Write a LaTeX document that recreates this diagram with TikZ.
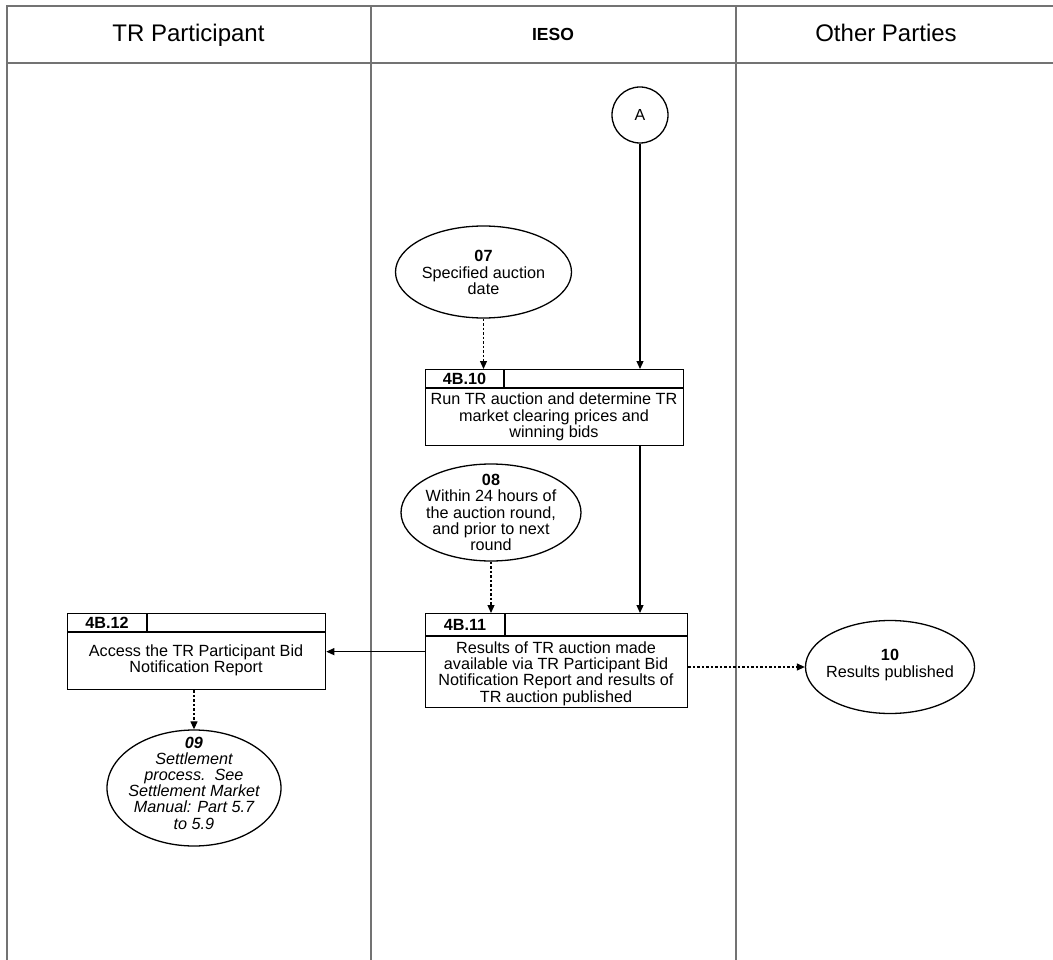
\documentclass[tikz,border=0pt]{standalone}
\usepackage{fontspec}
\setmainfont{Liberation Sans}
\usetikzlibrary{arrows.meta,shapes.geometric}
\begin{document}
\begin{tikzpicture}[x=1pt,y=-1pt,
  frame/.style={draw=black!55, line width=1.5pt},
  edge/.style={draw=black, line width=1.3pt},
  txt/.style={font=\fontsize{16.2}{16.4}\selectfont, align=center, inner sep=0pt},
  idtxt/.style={font=\fontsize{16.2}{16.4}\selectfont\bfseries, inner sep=0pt},
  flow/.style={draw=black, line width=1.2pt, -{Triangle[length=8pt,width=7pt]}},
  info/.style={flow, dash pattern=on 2.5pt off 2pt},
  oval/.style={ellipse, draw=black, line width=1.3pt, inner sep=0pt},
  procbox/.style={rectangle, draw=black, line width=1.3pt, inner sep=0pt, anchor=north west}
]
\useasboundingbox (0,0) rectangle (1053,960);
\fill[white] (0,0) rectangle (1053,960);
% swimlane frame
\begin{scope}
\clip (0,0) rectangle (1053,960);
\draw[frame] (1100,6) -- (7,6) -- (7,980);
\draw[frame] (7,63) -- (1100,63);
\draw[frame] (371,6) -- (371,980);
\draw[frame] (736,6) -- (736,980);
\end{scope}
% lane headers
\node[font=\fontsize{24}{24}\selectfont, inner sep=0pt, anchor=base] (h1) at (188.5,42) {TR Participant};
\node[font=\fontsize{17.5}{17.5}\selectfont\bfseries, inner sep=0pt, anchor=base] (h2) at (553,41) {IESO};
\node[font=\fontsize{24}{24}\selectfont, inner sep=0pt, anchor=base] (h3) at (886,42) {Other Parties};
% connector A
\node[circle, draw=black, line width=1.3pt, minimum size=56pt, inner sep=0pt, font=\fontsize{16}{16}\selectfont] (a) at (640,115) {A};
% ellipse 07
\node[oval, minimum width=176pt, minimum height=92pt] (e07) at (483.5,272) {};
\node[txt] (t07) at (483.5,272.5) {\textbf{07}\\Specified auction\\date};
% box 4B.10
\node[procbox, minimum width=258pt, minimum height=76pt] (b10) at (425,369) {};
\draw[edge] ([yshift=-19pt]b10.north west) -- ([yshift=-19pt]b10.north east);
\draw[edge] ([xshift=79pt]b10.north west) -- ++(0,19);
\node[idtxt] (b10id) at (464.5,378.5) {4B.10};
\node[txt] (b10t) at (554,417) {Run TR auction and determine TR\\market clearing prices and\\winning bids};
% ellipse 08
\node[oval, minimum width=180pt, minimum height=97pt] (e08) at (491,512.5) {};
\node[txt] (t08) at (491,512.5) {\textbf{08}\\Within 24 hours of\\the auction round,\\and prior to next\\round};
% box 4B.11
\node[procbox, minimum width=262pt, minimum height=94pt] (b11) at (425,613) {};
\draw[edge] ([yshift=-23pt]b11.north west) -- ([yshift=-23pt]b11.north east);
\draw[edge] ([xshift=80pt]b11.north west) -- ++(0,23);
\node[idtxt] (b11id) at (465,624.5) {4B.11};
\node[txt] (b11t) at (556,673.5) {Results of TR auction made\\available via TR Participant Bid\\Notification Report and results of\\TR auction published};
% box 4B.12
\node[procbox, minimum width=258pt, minimum height=76pt] (b12) at (67,613) {};
\draw[edge] ([yshift=-19pt]b12.north west) -- ([yshift=-19pt]b12.north east);
\draw[edge] ([xshift=80pt]b12.north west) -- ++(0,19);
\node[idtxt] (b12id) at (107,622.5) {4B.12};
\node[txt] (b12t) at (196,660.5) {Access the TR Participant Bid\\Notification Report};
% ellipse 09
\node[oval, minimum width=174pt, minimum height=116pt] (e09) at (194,788) {};
\node[txt, font=\fontsize{16.2}{16.2}\selectfont\itshape] (t09) at (194,783) {\textbf{09}\\Settlement\\process.\ \ See\\Settlement Market\\Manual: Part 5.7\\to 5.9};
% ellipse 10
\node[oval, minimum width=169pt, minimum height=93pt] (e10) at (890,667) {};
\node[txt] (t10) at (890,665) {\textbf{10}\\Results published};
% connectors
\draw[flow] (a.south) -- (a.south |- b10.north);
\draw[info] (e07.south) -- (e07.south |- b10.north);
\draw[flow] (b10.south -| a.south) -- (b11.north -| a.south);
\draw[info] (e08.south) -- (e08.south |- b11.north);
\draw[flow] (b11.west |- b12.east) -- (b12.east);
\draw[info] (b11.east |- e10.west) -- (e10.west);
\draw[info] (e09.north |- b12.south) -- (e09.north);
\end{tikzpicture}
\end{document}
